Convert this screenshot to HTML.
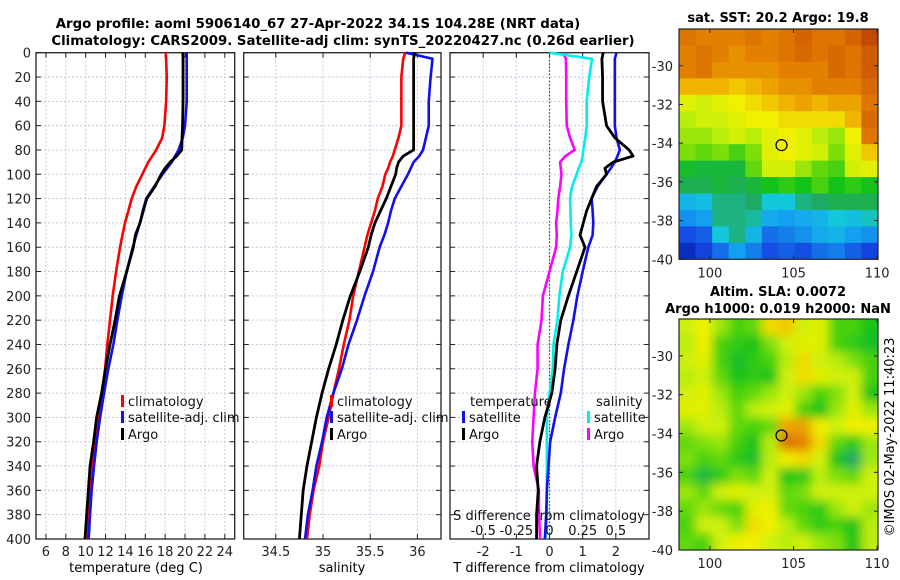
<!DOCTYPE html>
<html><head><meta charset="utf-8"><style>
html,body{margin:0;padding:0;background:#fff}
svg{display:block;font-family:"DejaVu Sans","Liberation Sans",sans-serif}
</style></head><body>
<svg id="fig" width="900" height="580" viewBox="0 0 900 580" xmlns="http://www.w3.org/2000/svg">
<text x="318" y="28" font-size="13.3" font-weight="bold" text-anchor="middle">Argo profile: aoml 5906140_67 27-Apr-2022 34.1S 104.28E (NRT data)</text>
<text x="343" y="45" font-size="13.3" font-weight="bold" text-anchor="middle">Climatology: CARS2009. Satellite-adj clim: synTS_20220427.nc (0.26d earlier)</text>
<text x="778" y="22" font-size="13" font-weight="bold" text-anchor="middle">sat. SST: 20.2 Argo: 19.8</text>
<text x="778" y="296" font-size="13" font-weight="bold" text-anchor="middle">Altim. SLA: 0.0072</text>
<text x="778" y="313" font-size="13" font-weight="bold" text-anchor="middle">Argo h1000: 0.019 h2000: NaN</text>
<text transform="translate(894,437) rotate(-90)" font-size="13" text-anchor="middle">©IMOS 02-May-2022 11:40:23</text>
<text x="136" y="572" font-size="13" text-anchor="middle">temperature (deg C)</text>
<text x="342" y="572" font-size="13" text-anchor="middle">salinity</text>
<text x="549" y="572" font-size="13" text-anchor="middle">T difference from climatology</text>
<g id="g"></g>
</svg>
<script>
// ---------- data ----------
const depths = [0,5,20,40,60,70,80,85,90,95,100,110,120,130,140,150,160,180,200,220,240,260,280,300,320,340,360,380,400];
const tempClim = [18.06,18.1,18.16,18.1,17.92,17.7,17.1,16.7,16.3,16.0,15.7,15.1,14.63,14.3,13.96,13.7,13.46,13.06,12.72,12.45,12.18,11.95,11.68,11.28,10.94,10.71,10.5,10.34,10.2];
const tempSat = [20.17,20.17,20.17,20.17,20.0,19.77,19.35,19.0,18.66,18.2,17.74,16.9,16.1,15.75,15.47,15.1,14.74,14.13,13.63,13.19,12.79,12.28,11.85,11.45,11.11,10.84,10.6,10.44,10.3];
const tempArgo = [19.77,19.8,19.8,19.8,19.75,19.7,19.67,19.17,18.5,18.0,17.6,16.98,16.15,15.8,15.47,15.0,14.8,14.13,13.4,12.96,12.45,12.0,11.6,11.1,10.8,10.44,10.27,10.1,9.93];
const salClim = [35.87,35.85,35.83,35.83,35.83,35.8,35.76,35.74,35.71,35.69,35.66,35.63,35.58,35.55,35.51,35.47,35.44,35.38,35.32,35.28,35.22,35.17,35.11,35.06,35.0,34.96,34.9,34.86,34.83];
const salSat = [35.88,36.16,36.14,36.12,36.12,36.09,36.06,36.02,35.96,35.93,35.9,35.83,35.76,35.72,35.69,35.65,35.6,35.53,35.44,35.36,35.27,35.2,35.11,35.04,34.99,34.93,34.89,34.84,34.81];
const salArgo = [35.97,35.96,35.96,35.96,35.96,35.96,35.96,35.85,35.8,35.78,35.77,35.72,35.67,35.61,35.55,35.51,35.48,35.39,35.29,35.21,35.14,35.06,34.99,34.93,34.88,34.83,34.79,34.77,34.75];
const dTSat = [2.02,1.97,1.97,1.97,1.97,2.02,2.12,2.05,1.97,1.85,1.72,1.45,1.27,1.3,1.32,1.3,1.17,1.0,0.84,0.72,0.57,0.44,0.34,0.17,0.02,-0.03,-0.08,-0.1,-0.14];
const dTArgo = [1.62,1.58,1.6,1.6,1.72,1.97,2.4,2.52,1.92,1.67,1.72,1.42,1.27,1.12,1.02,0.92,1.07,0.82,0.57,0.34,0.22,0.17,0.07,-0.14,-0.29,-0.39,-0.34,-0.39,-0.39];
const dSSat = [0.0,0.32,0.3,0.28,0.28,0.27,0.255,0.25,0.24,0.22,0.205,0.17,0.155,0.158,0.16,0.165,0.155,0.1,0.074,0.06,0.03,0.025,0.0,-0.02,-0.02,-0.02,-0.02,-0.02,-0.03];
const dSArgo = [0.10,0.124,0.126,0.126,0.13,0.155,0.19,0.12,0.08,0.085,0.09,0.08,0.066,0.06,0.05,0.055,0.05,0.0,-0.05,-0.06,-0.09,-0.09,-0.11,-0.12,-0.13,-0.12,-0.08,-0.08,-0.07];
const depthTicks = [0,20,40,60,80,100,120,140,160,180,200,220,240,260,280,300,320,340,360,380,400];
const tempTicks = [6,8,10,12,14,16,18,20,22,24];
const salTicks = [34.5,35,35.5,36];
const salTickLabels = ["34.5","35","35.5","36"];
const tdTicks = [-2,-1,0,1,2];
const sdTicks = [-0.5,-0.25,0,0.25,0.5];
const sdTickLabels = ["-0.5","-0.25","0","0.25","0.5"];
const latTicks = [-30,-32,-34,-36,-38,-40];
const lonTicks = [100,105,110];
const argoLon = 104.28, argoLat = -34.1;
const sstGrid = [
[0.82,0.80,0.80,0.80,0.82,0.80,0.82,0.85,0.82,0.82,0.85,0.90],
[0.80,0.82,0.80,0.78,0.80,0.80,0.82,0.84,0.82,0.84,0.82,0.86],
[0.80,0.82,0.78,0.78,0.78,0.78,0.80,0.80,0.80,0.84,0.82,0.86],
[0.74,0.74,0.74,0.72,0.74,0.76,0.78,0.78,0.80,0.80,0.80,0.84],
[0.66,0.64,0.66,0.68,0.70,0.72,0.74,0.76,0.74,0.76,0.76,0.82],
[0.62,0.64,0.64,0.66,0.68,0.68,0.70,0.70,0.70,0.70,0.74,0.84],
[0.60,0.60,0.62,0.64,0.62,0.66,0.68,0.66,0.62,0.60,0.68,0.82],
[0.58,0.56,0.58,0.54,0.58,0.66,0.68,0.66,0.64,0.58,0.66,0.72],
[0.48,0.46,0.46,0.46,0.56,0.64,0.64,0.60,0.56,0.54,0.64,0.66],
[0.44,0.44,0.46,0.44,0.46,0.50,0.52,0.50,0.54,0.50,0.52,0.50],
[0.30,0.32,0.40,0.40,0.42,0.34,0.34,0.40,0.42,0.44,0.44,0.44],
[0.24,0.26,0.40,0.40,0.38,0.28,0.26,0.28,0.30,0.34,0.32,0.36],
[0.16,0.18,0.34,0.40,0.30,0.20,0.22,0.24,0.28,0.30,0.26,0.24],
[0.08,0.14,0.20,0.26,0.22,0.16,0.18,0.16,0.20,0.22,0.18,0.14]];
const slaGrid = [
[0.60,0.64,0.56,0.50,0.52,0.66,0.68,0.60,0.62,0.50,0.50,0.46],
[0.58,0.64,0.50,0.48,0.46,0.54,0.60,0.62,0.62,0.50,0.48,0.44],
[0.60,0.62,0.50,0.44,0.48,0.50,0.58,0.66,0.60,0.58,0.54,0.50],
[0.58,0.60,0.52,0.46,0.48,0.46,0.60,0.66,0.62,0.60,0.60,0.50],
[0.60,0.62,0.56,0.50,0.52,0.56,0.60,0.56,0.50,0.54,0.60,0.46],
[0.62,0.62,0.58,0.52,0.58,0.60,0.62,0.50,0.46,0.56,0.62,0.56],
[0.56,0.60,0.60,0.52,0.50,0.52,0.72,0.72,0.64,0.60,0.64,0.64],
[0.52,0.54,0.56,0.50,0.46,0.58,0.78,0.76,0.66,0.52,0.48,0.56],
[0.54,0.50,0.52,0.48,0.44,0.58,0.64,0.66,0.60,0.46,0.38,0.56],
[0.50,0.42,0.48,0.54,0.52,0.60,0.46,0.48,0.58,0.54,0.52,0.60],
[0.56,0.52,0.60,0.62,0.60,0.60,0.52,0.54,0.60,0.60,0.60,0.60],
[0.52,0.56,0.52,0.50,0.62,0.64,0.52,0.50,0.48,0.56,0.60,0.56],
[0.50,0.60,0.60,0.54,0.66,0.64,0.58,0.52,0.48,0.50,0.46,0.58],
[0.52,0.50,0.60,0.64,0.64,0.60,0.58,0.60,0.56,0.54,0.46,0.58]];

// ---------- helpers ----------
const NS="http://www.w3.org/2000/svg";
const G=document.getElementById('g');
function mk(tag,attrs,parent){const e=document.createElementNS(NS,tag);for(const k in attrs)e.setAttribute(k,attrs[k]);(parent||G).appendChild(e);return e;}
function lin(d0,d1,r0,r1){return v=>r0+(v-d0)*(r1-r0)/(d1-d0);}
const Y0=52.7,Y1=539;
const yDepth=lin(0,400,Y0,Y1);
const panels=[
 {name:'temperature-panel',x0:36,x1:234.7,dom:[5,25]},
 {name:'salinity-panel',x0:243.7,x1:441,dom:[34.16,36.25]},
 {name:'difference-panel',x0:450,x1:649,dom:[-3,3]}];
const xT=lin(5,25,36,234.7), xS=lin(34.16,36.25,243.7,441), xD=lin(-3,3,450,649), xSD=lin(-0.75,0.75,450,649);

function frame(p,xticks,xfn,labels,leftLabels){
  const g=mk('g',{});
  
  
  for(const d of depthTicks){const y=yDepth(d);
    const l=mk('line',{x1:p.x0,x2:p.x1,y1:y,y2:y,stroke:'#c4c8e0','stroke-width':1,'stroke-dasharray':'2,2'},g);
    
    mk('line',{x1:p.x0,x2:p.x0+5,y1:y,y2:y,stroke:'#222'},g);
    mk('line',{x1:p.x1-5,x2:p.x1,y1:y,y2:y,stroke:'#222'},g);
    if(leftLabels){const t=mk('text',{x:p.x0-5,y:y+5,'font-size':13,'text-anchor':'end',fill:'#222'},g);t.textContent=d;
      }
  }
  xticks.forEach((v,i)=>{const x=xfn(v);
    const l=mk('line',{x1:x,x2:x,y1:Y0,y2:Y1,stroke:'#c4c8e0','stroke-width':1,'stroke-dasharray':'2,2'},g);
    
    mk('line',{x1:x,x2:x,y1:Y1-5,y2:Y1,stroke:'#222'},g);
    mk('line',{x1:x,x2:x,y1:Y0,y2:Y0+5,stroke:'#222'},g);
    const t=mk('text',{x:x,y:556,'font-size':13,'text-anchor':'middle',fill:'#222'},g);t.textContent=labels[i];
    
  });
  const r=mk('rect',{x:p.x0,y:Y0,width:p.x1-p.x0,height:Y1-Y0,fill:'none',stroke:'#222','stroke-width':1.3},g);
  
  return g;
}
function series(vals,xfn,color,name,w){
  const pts=vals.map((v,i)=>xfn(v).toFixed(2)+','+yDepth(depths[i]).toFixed(2)).join(' ');
  const e=mk('polyline',{points:pts,fill:'none',stroke:color,'stroke-width':w||2.6,'stroke-linejoin':'round'});
  
}
function legendItem(x,y,color,label,name){
  const m=mk('rect',{x:x,y:y-11,width:3,height:12,fill:color});
  
  if(label){const t=mk('text',{x:x+7,y:y,'font-size':13,fill:'#111'});t.textContent=label;
  }
}

// panels
frame(panels[0],tempTicks,xT,tempTicks.map(String),true);
series(tempClim,xT,'#f00','temp-climatology-line');
series(tempSat,xT,'#1010ee','temp-satellite-line');
series(tempArgo,xT,'#000','temp-argo-line',2.8);
legendItem(121,406,'#f00','climatology','legend-entry-climatology');
legendItem(121,422,'#1010ee','satellite-adj. clim','legend-entry-satellite');
legendItem(121,439,'#000','Argo','legend-entry-argo');

frame(panels[1],salTicks,xS,salTickLabels,false);
series(salClim,xS,'#f00','sal-climatology-line');
series(salSat,xS,'#1010ee','sal-satellite-line');
series(salArgo,xS,'#000','sal-argo-line',2.8);
legendItem(330,406,'#f00','climatology','legend-entry-climatology-2');
legendItem(330,422,'#1010ee','satellite-adj. clim','legend-entry-satellite-2');
legendItem(330,439,'#000','Argo','legend-entry-argo-2');

frame(panels[2],tdTicks,xD,tdTicks.map(String),false);
{const z=mk('line',{x1:xD(0),x2:xD(0),y1:Y0,y2:Y1,stroke:'#2f4f2f','stroke-width':1.2,'stroke-dasharray':'1.5,2'});
}
series(dSArgo,xSD,'#ff00ff','sdiff-argo-line');
series(dSSat,xSD,'#00eeee','sdiff-satellite-line');
series(dTSat,xD,'#1010ee','tdiff-satellite-line');
series(dTArgo,xD,'#000','tdiff-argo-line',2.8);
{const t=mk('text',{x:470,y:406,'font-size':13,fill:'#111'});t.textContent='temperature';
 const s=mk('text',{x:596,y:406,'font-size':13,fill:'#111'});s.textContent='salinity';}
legendItem(462,422,'#1010ee','satellite','legend-entry-t-satellite');
legendItem(462,439,'#000','Argo','legend-entry-t-argo');
legendItem(587,422,'#00eeee','satellite','legend-entry-s-satellite');
legendItem(587,439,'#ff00ff','Argo','legend-entry-s-argo');
{const t=mk('text',{x:549,y:520,'font-size':13,'text-anchor':'middle',fill:'#111'});t.textContent='S difference from climatology';
 }
sdTicks.forEach((v,i)=>{const t=mk('text',{x:xSD(v),y:535,'font-size':13,'text-anchor':'middle',fill:'#111'});t.textContent=sdTickLabels[i];
 });

// maps
const stops=[[0,[0,16,150]],[0.15,[20,70,225]],[0.26,[20,160,240]],[0.34,[20,200,220]],[0.42,[30,170,100]],[0.5,[20,195,25]],[0.57,[110,220,10]],[0.63,[200,240,10]],[0.68,[240,240,0]],[0.74,[240,180,0]],[0.8,[228,128,0]],[0.87,[205,88,0]],[1,[160,20,0]]];
function cmap(v){for(let i=1;i<stops.length;i++){if(v<=stops[i][0]){const a=stops[i-1],b=stops[i],t=(v-a[0])/(b[0]-a[0]);
 return 'rgb('+a[1].map((c,k)=>Math.round(c+(b[1][k]-c)*t)).join(',')+')';}}return 'rgb(160,20,0)';}
function map(name,grid,top,bot,blur,shift){
  const x0=679,x1=878,lon=lin(98.15,110.05,x0,x1),lat=lin(-30,-40,top+((bot-top)*1.9/11.9),bot);
  const g=mk('g',{});
  const cid=name+'-clip';const cp=mk('clipPath',{id:cid},g);mk('rect',{x:x0,y:top,width:x1-x0,height:bot-top},cp);
  const cg=mk('g',{'clip-path':'url(#'+cid+')'},g);
  let inner=cg;
  if(blur){const f=mk('filter',{id:name+'-blur',x:'-10%',y:'-10%',width:'120%',height:'120%'},g);mk('feGaussianBlur',{stdDeviation:blur},f);inner=mk('g',{filter:'url(#'+name+'-blur)'},cg);}
  const rows=grid.length,cols=grid[0].length,cw=(x1-x0)/cols,ch=(bot-top)/rows;
  grid.forEach((row,r)=>row.forEach((v,c)=>{
    const e=mk('rect',{x:x0+c*cw-(blur&&c==0?10:0),y:top+r*ch-(blur&&r==0?10:0),width:cw+0.6+(blur&&(c==0||c==cols-1)?10:0),height:ch+0.6+(blur&&(r==0||r==rows-1)?10:0),fill:cmap(v+shift)},inner);
    
  }));
  const ci=mk('circle',{cx:lon(argoLon),cy:lat(argoLat),r:5.5,fill:'none',stroke:'#000','stroke-width':1.2},g);
  
  mk('rect',{x:x0,y:top,width:x1-x0,height:bot-top,fill:'none',stroke:'#222','stroke-width':1.2},g);
  latTicks.forEach(v=>{const y=lat(v);mk('line',{x1:x0,x2:x0+4,y1:y,y2:y,stroke:'#222'},g);mk('line',{x1:x1-4,x2:x1,y1:y,y2:y,stroke:'#222'},g);
    const t=mk('text',{x:x0-6,y:y+5,'font-size':13,'text-anchor':'end',fill:'#222'},g);t.textContent=v;
    });
  lonTicks.forEach(v=>{const x=lon(v);mk('line',{x1:x,x2:x,y1:bot-4,y2:bot,stroke:'#222'},g);mk('line',{x1:x,x2:x,y1:top,y2:top+4,stroke:'#222'},g);
    const t=mk('text',{x:x,y:bot+18,'font-size':13,'text-anchor':'middle',fill:'#222'},g);t.textContent=v;
    });
}
map('sst-map',sstGrid,29,259.3,0,0);
map('sla-map',slaGrid,319,550,5,0.04);
</script>
</body></html>
